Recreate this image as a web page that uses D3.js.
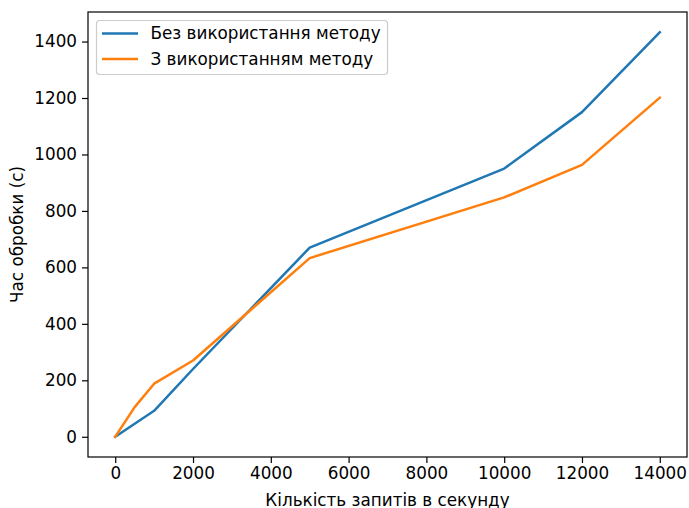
<!DOCTYPE html>
<html>
<head>
<meta charset="utf-8">
<script src="https://cdn.jsdelivr.net/npm/d3@7"></script>
<style>
  body { margin: 0; background: #fff; }
  svg text { font-family: "DejaVu Sans", sans-serif; fill: #000; }
</style>
</head>
<body>
<div id="chart"></div>
<script>
// requests per second
const requests = [0, 500, 1000, 2000, 5000, 10000, 12000, 14000];
// processing time (s)
const withoutMethod = [0, 46, 92, 240, 670, 950, 1150, 1433];
const withMethod = [0, 105, 188, 270, 633, 848, 963, 1201];
const seriesNames = ["Без використання методу", "З використанням методу"];
const xTicks = [0, 2000, 4000, 6000, 8000, 10000, 12000, 14000];
const yTicks = [0, 200, 400, 600, 800, 1000, 1200, 1400];
const xTitle = "Кількість запитів в секунду";
const yTitle = "Час обробки (с)";

const width = 689, height = 508;
const margin = { top: 12, right: 2, bottom: 51, left: 88 };
const colors = ["#1f77b4", "#ff7f0e"];
const fontSize = 16.8;

const svg = d3.select("#chart")
    .append("svg")
    .attr("width", width)
    .attr("height", height);

// matplotlib style 5% margins
const xPad = (d3.max(requests) - d3.min(requests)) * 0.05;
const allY = withoutMethod.concat(withMethod);
const yPad = (d3.max(allY) - d3.min(allY)) * 0.05;

const x = d3.scaleLinear()
    .domain([d3.min(requests) - xPad, d3.max(requests) + xPad])
    .range([margin.left, width - margin.right]);
const y = d3.scaleLinear()
    .domain([d3.min(allY) - yPad, d3.max(allY) + yPad])
    .range([height - margin.bottom, margin.top]);

// axes
const xAxis = svg.append("g")
    .attr("transform", "translate(0," + (height - margin.bottom) + ")")
    .call(d3.axisBottom(x).tickValues(xTicks).tickFormat(d3.format("d")).tickSize(6).tickPadding(4));
const yAxis = svg.append("g")
    .attr("transform", "translate(" + margin.left + ",0)")
    .call(d3.axisLeft(y).tickValues(yTicks).tickFormat(d3.format("d")).tickSize(6).tickPadding(5));
[xAxis, yAxis].forEach(a => {
    a.select(".domain").remove();
    a.selectAll(".tick line").attr("stroke", "#000").attr("stroke-width", 1.2);
    a.selectAll(".tick text").style("font-size", fontSize + "px").attr("fill", "#000");
});

// lines
const line = d3.line()
    .x((d, i) => x(requests[i]))
    .y(d => y(d));
[withoutMethod, withMethod].forEach((vals, i) => {
    svg.append("path")
        .datum(vals)
        .attr("fill", "none")
        .attr("stroke", colors[i])
        .attr("stroke-width", 2.5)
        .attr("stroke-linejoin", "round")
        .attr("stroke-linecap", "square")
        .attr("d", line);
});

// frame
svg.append("rect")
    .attr("x", margin.left)
    .attr("y", margin.top)
    .attr("width", width - margin.left - margin.right)
    .attr("height", height - margin.top - margin.bottom)
    .attr("fill", "none")
    .attr("stroke", "#000")
    .attr("stroke-width", 1.2);

// axis titles (bottom one is clipped by the edge in the original too)
svg.append("text")
    .attr("x", (margin.left + width - margin.right) / 2)
    .attr("y", height - 2.5)
    .attr("text-anchor", "middle")
    .style("font-size", fontSize + "px")
    .text(xTitle);
svg.append("text")
    .attr("transform", "translate(23," + ((margin.top + height - margin.bottom) / 2) + ") rotate(-90)")
    .attr("text-anchor", "middle")
    .style("font-size", fontSize + "px")
    .text(yTitle);

// legend
const legend = svg.append("g");
legend.append("rect")
    .attr("x", 96.5)
    .attr("y", 20.5)
    .attr("width", 291)
    .attr("height", 54)
    .attr("rx", 3)
    .attr("fill", "#fff")
    .attr("fill-opacity", 0.8)
    .attr("stroke", "#ccc")
    .attr("stroke-width", 1.2);
seriesNames.forEach((name, i) => {
    const ly = 33.5 + i * 25.5;
    legend.append("line")
        .attr("x1", 102).attr("x2", 138)
        .attr("y1", ly).attr("y2", ly)
        .attr("stroke", colors[i])
        .attr("stroke-width", 2.5);
    legend.append("text")
        .attr("x", 150.5)
        .attr("y", ly)
        .attr("dy", "0.35em")
        .style("font-size", fontSize + "px")
        .text(name);
});
</script>
</body>
</html>
